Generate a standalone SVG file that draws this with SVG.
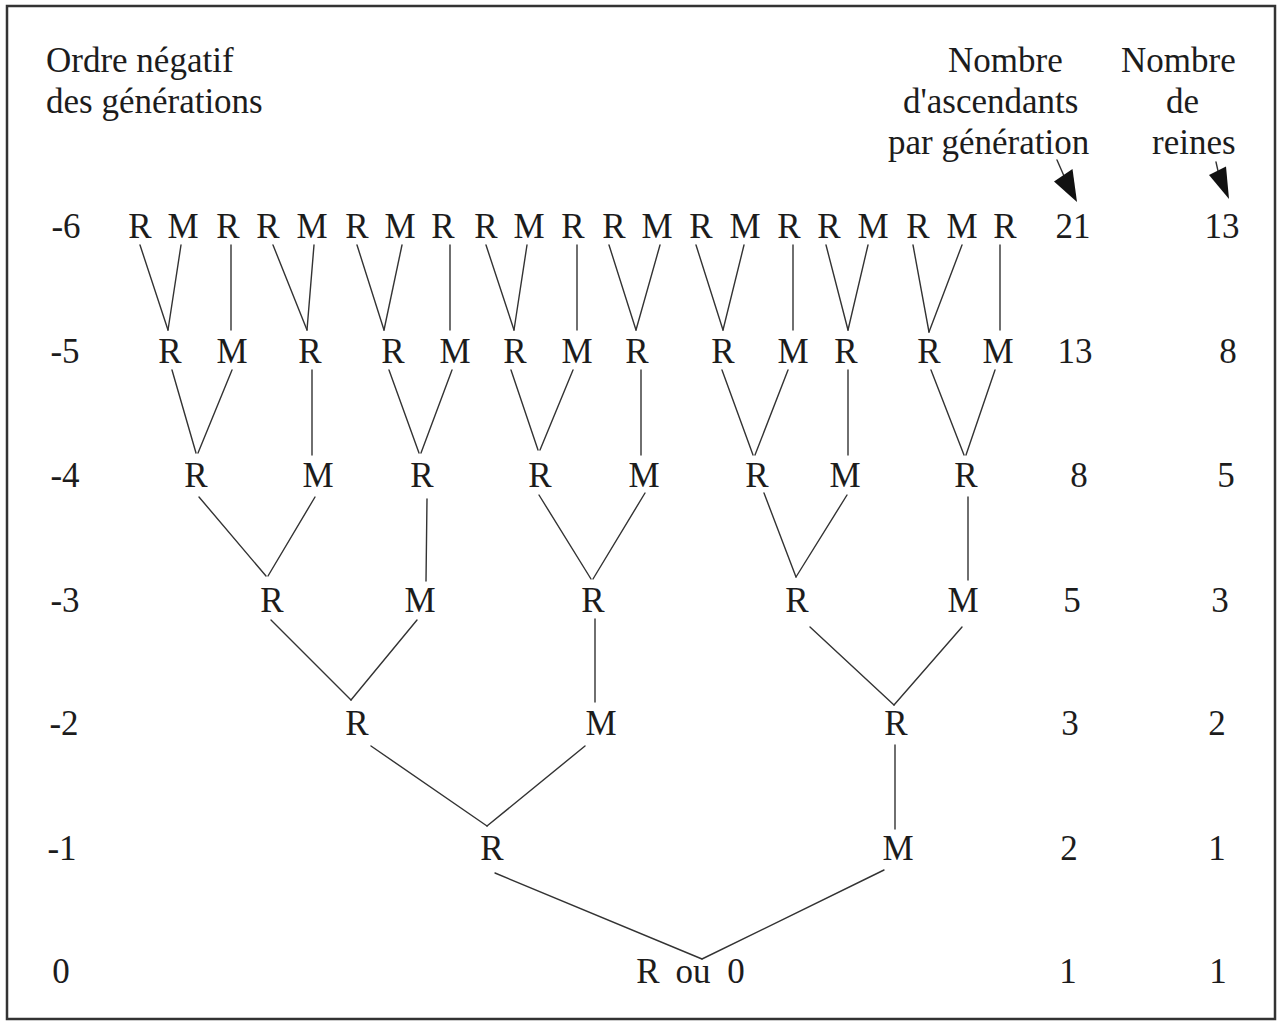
<svg xmlns="http://www.w3.org/2000/svg" width="1280" height="1023" viewBox="0 0 1280 1023">
<style>
.t{font-family:"Liberation Serif","Times New Roman",serif;font-size:35px;fill:#1c1c1c}
.c{text-anchor:middle}
.ln{stroke:#333;stroke-width:1.4;fill:none;stroke-linecap:round}
.ah{fill:#111}
</style>
<rect x="7" y="6" width="1268" height="1013" fill="#fff" stroke="#333" stroke-width="2.5"/>
<g id="headers">
<text class="t" x="46" y="72">Ordre négatif</text>
<text class="t" x="46" y="113">des générations</text>
<text class="t" x="948" y="72">Nombre</text>
<text class="t" x="903" y="113">d'ascendants</text>
<text class="t" x="888" y="154">par génération</text>
<text class="t" x="1121" y="72">Nombre</text>
<text class="t" x="1166" y="113">de</text>
<text class="t" x="1152" y="154">reines</text>
</g>
<g id="arrows">
<line class="ln" x1="1057" y1="160" x2="1064" y2="176"/>
<polygon class="ah" points="1077,202 1072.5,169 1054,181.5"/>
<line class="ln" x1="1216" y1="162" x2="1218" y2="171"/>
<polygon class="ah" points="1229,199 1226,166.5 1209,175"/>
</g>
<g id="generation-labels">
<text class="t c" x="66" y="238">-6</text>
<text class="t c" x="65" y="363">-5</text>
<text class="t c" x="65" y="487">-4</text>
<text class="t c" x="65" y="612">-3</text>
<text class="t c" x="64" y="735">-2</text>
<text class="t c" x="62" y="860">-1</text>
<text class="t c" x="61" y="983">0</text>
</g>
<g id="ascendants-counts">
<text class="t c" x="1073" y="238">21</text>
<text class="t c" x="1075" y="363">13</text>
<text class="t c" x="1079" y="487">8</text>
<text class="t c" x="1072" y="612">5</text>
<text class="t c" x="1070" y="735">3</text>
<text class="t c" x="1069" y="860">2</text>
<text class="t c" x="1068" y="983">1</text>
</g>
<g id="reines-counts">
<text class="t c" x="1222" y="238">13</text>
<text class="t c" x="1228" y="363">8</text>
<text class="t c" x="1226" y="487">5</text>
<text class="t c" x="1220" y="612">3</text>
<text class="t c" x="1217" y="735">2</text>
<text class="t c" x="1217" y="860">1</text>
<text class="t c" x="1218" y="983">1</text>
</g>
<g id="connectors">
<line class="ln" x1="140" y1="245" x2="168" y2="330"/>
<line class="ln" x1="181" y1="245" x2="168" y2="330"/>
<line class="ln" x1="231" y1="245" x2="231" y2="330"/>
<line class="ln" x1="273" y1="245" x2="307" y2="330"/>
<line class="ln" x1="314" y1="245" x2="307" y2="330"/>
<line class="ln" x1="357" y1="245" x2="384" y2="330"/>
<line class="ln" x1="402" y1="245" x2="384" y2="330"/>
<line class="ln" x1="450" y1="245" x2="450" y2="330"/>
<line class="ln" x1="486" y1="245" x2="514" y2="330"/>
<line class="ln" x1="527" y1="245" x2="514" y2="330"/>
<line class="ln" x1="577" y1="245" x2="577" y2="330"/>
<line class="ln" x1="609" y1="245" x2="636" y2="330"/>
<line class="ln" x1="660" y1="245" x2="636" y2="330"/>
<line class="ln" x1="696" y1="245" x2="723" y2="330"/>
<line class="ln" x1="744" y1="245" x2="723" y2="330"/>
<line class="ln" x1="793" y1="245" x2="793" y2="330"/>
<line class="ln" x1="826" y1="245" x2="848" y2="330"/>
<line class="ln" x1="868" y1="245" x2="848" y2="330"/>
<line class="ln" x1="913" y1="245" x2="929" y2="332"/>
<line class="ln" x1="962" y1="245" x2="929" y2="332"/>
<line class="ln" x1="1000" y1="245" x2="1000" y2="330"/>

<line class="ln" x1="172" y1="370" x2="196" y2="453"/>
<line class="ln" x1="232" y1="370" x2="198" y2="453"/>
<line class="ln" x1="312" y1="370" x2="312" y2="455"/>
<line class="ln" x1="389" y1="370" x2="419" y2="453"/>
<line class="ln" x1="452" y1="370" x2="421" y2="453"/>
<line class="ln" x1="511" y1="370" x2="538" y2="450"/>
<line class="ln" x1="573" y1="370" x2="540" y2="450"/>
<line class="ln" x1="641" y1="370" x2="641" y2="455"/>
<line class="ln" x1="722" y1="370" x2="753" y2="455"/>
<line class="ln" x1="788" y1="370" x2="755" y2="455"/>
<line class="ln" x1="848" y1="370" x2="848" y2="455"/>
<line class="ln" x1="931" y1="370" x2="964" y2="455"/>
<line class="ln" x1="995" y1="370" x2="966" y2="455"/>

<line class="ln" x1="199" y1="497" x2="266" y2="576"/>
<line class="ln" x1="315" y1="497" x2="268" y2="576"/>
<line class="ln" x1="427" y1="499" x2="426" y2="581"/>
<line class="ln" x1="539" y1="495" x2="591" y2="579"/>
<line class="ln" x1="645" y1="493" x2="593" y2="579"/>
<line class="ln" x1="764" y1="493" x2="796" y2="577"/>
<line class="ln" x1="847" y1="495" x2="796" y2="577"/>
<line class="ln" x1="968" y1="497" x2="968" y2="580"/>

<line class="ln" x1="271" y1="620" x2="351" y2="700"/>
<line class="ln" x1="417" y1="620" x2="351" y2="700"/>
<line class="ln" x1="595" y1="619" x2="595" y2="702"/>
<line class="ln" x1="810" y1="627" x2="894" y2="705"/>
<line class="ln" x1="962" y1="627" x2="894" y2="705"/>

<line class="ln" x1="371" y1="746" x2="487" y2="826"/>
<line class="ln" x1="585" y1="746" x2="487" y2="826"/>
<line class="ln" x1="895" y1="745" x2="895" y2="829"/>

<line class="ln" x1="495" y1="873" x2="702" y2="959"/>
<line class="ln" x1="884" y1="870" x2="702" y2="959"/>
</g>
<g id="gen-6">
<g id="n6-1"><text class="t c" x="140" y="238">R</text></g>
<g id="n6-2"><text class="t c" x="183" y="238">M</text></g>
<g id="n6-3"><text class="t c" x="228" y="238">R</text></g>
<g id="n6-4"><text class="t c" x="268" y="238">R</text></g>
<g id="n6-5"><text class="t c" x="312" y="238">M</text></g>
<g id="n6-6"><text class="t c" x="357" y="238">R</text></g>
<g id="n6-7"><text class="t c" x="400" y="238">M</text></g>
<g id="n6-8"><text class="t c" x="443" y="238">R</text></g>
<g id="n6-9"><text class="t c" x="486" y="238">R</text></g>
<g id="n6-10"><text class="t c" x="529" y="238">M</text></g>
<g id="n6-11"><text class="t c" x="573" y="238">R</text></g>
<g id="n6-12"><text class="t c" x="614" y="238">R</text></g>
<g id="n6-13"><text class="t c" x="657" y="238">M</text></g>
<g id="n6-14"><text class="t c" x="701" y="238">R</text></g>
<g id="n6-15"><text class="t c" x="745" y="238">M</text></g>
<g id="n6-16"><text class="t c" x="789" y="238">R</text></g>
<g id="n6-17"><text class="t c" x="829" y="238">R</text></g>
<g id="n6-18"><text class="t c" x="873" y="238">M</text></g>
<g id="n6-19"><text class="t c" x="918" y="238">R</text></g>
<g id="n6-20"><text class="t c" x="962" y="238">M</text></g>
<g id="n6-21"><text class="t c" x="1005" y="238">R</text></g>
</g>
<g id="gen-5">
<g id="n5-1"><text class="t c" x="170" y="363">R</text></g>
<g id="n5-2"><text class="t c" x="232" y="363">M</text></g>
<g id="n5-3"><text class="t c" x="310" y="363">R</text></g>
<g id="n5-4"><text class="t c" x="393" y="363">R</text></g>
<g id="n5-5"><text class="t c" x="455" y="363">M</text></g>
<g id="n5-6"><text class="t c" x="515" y="363">R</text></g>
<g id="n5-7"><text class="t c" x="577" y="363">M</text></g>
<g id="n5-8"><text class="t c" x="637" y="363">R</text></g>
<g id="n5-9"><text class="t c" x="723" y="363">R</text></g>
<g id="n5-10"><text class="t c" x="793" y="363">M</text></g>
<g id="n5-11"><text class="t c" x="846" y="363">R</text></g>
<g id="n5-12"><text class="t c" x="929" y="363">R</text></g>
<g id="n5-13"><text class="t c" x="998" y="363">M</text></g>
</g>
<g id="gen-4">
<g id="n4-1"><text class="t c" x="196" y="487">R</text></g>
<g id="n4-2"><text class="t c" x="318" y="487">M</text></g>
<g id="n4-3"><text class="t c" x="422" y="487">R</text></g>
<g id="n4-4"><text class="t c" x="540" y="487">R</text></g>
<g id="n4-5"><text class="t c" x="644" y="487">M</text></g>
<g id="n4-6"><text class="t c" x="757" y="487">R</text></g>
<g id="n4-7"><text class="t c" x="845" y="487">M</text></g>
<g id="n4-8"><text class="t c" x="966" y="487">R</text></g>
</g>
<g id="gen-3">
<g id="n3-1"><text class="t c" x="272" y="612">R</text></g>
<g id="n3-2"><text class="t c" x="420" y="612">M</text></g>
<g id="n3-3"><text class="t c" x="593" y="612">R</text></g>
<g id="n3-4"><text class="t c" x="797" y="612">R</text></g>
<g id="n3-5"><text class="t c" x="963" y="612">M</text></g>
</g>
<g id="gen-2">
<g id="n2-1"><text class="t c" x="357" y="735">R</text></g>
<g id="n2-2"><text class="t c" x="601" y="735">M</text></g>
<g id="n2-3"><text class="t c" x="896" y="735">R</text></g>
</g>
<g id="gen-1">
<g id="n1-1"><text class="t c" x="492" y="860">R</text></g>
<g id="n1-2"><text class="t c" x="898" y="860">M</text></g>
</g>
<g id="gen0">
<g id="n0"><text class="t c" y="983"><tspan x="648">R</tspan><tspan x="693">ou</tspan><tspan x="736">0</tspan></text></g>
</g>
</svg>
